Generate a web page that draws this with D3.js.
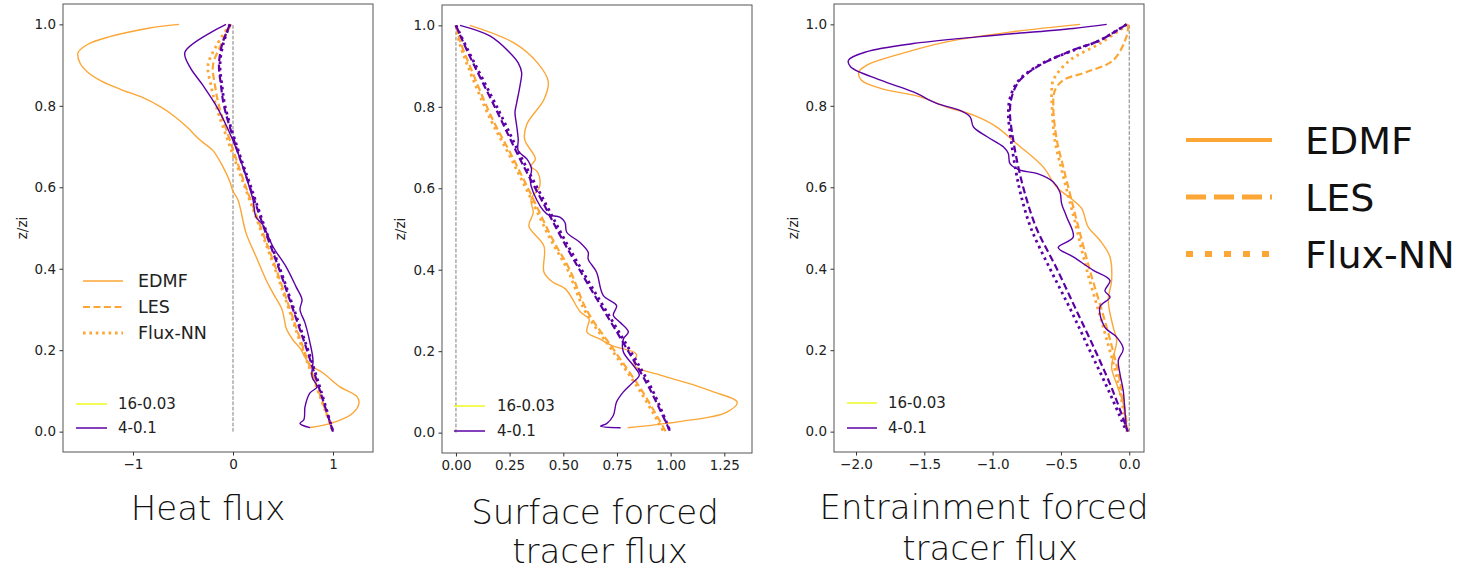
<!DOCTYPE html>
<html>
<head>
<meta charset="utf-8">
<script src="https://cdn.jsdelivr.net/npm/d3@7"></script>
<style>
  body { margin: 0; background: #fff; }
  svg { display: block; }
</style>
</head>
<body>
<svg id="chart" width="1476" height="572"></svg>
<script>
// ---- Profiles: each point is [flux, z/zi]. Case A = "16-0.03", case B = "4-0.1" ----

// Heat flux
const heatEdmfA = [[-0.54,1.0],[-0.86,0.99],[-1.23,0.97],[-1.46,0.95],[-1.55,0.93],[-1.53,0.905],[-1.45,0.882],[-1.31,0.86],[-1.12,0.84],[-0.90,0.82],[-0.72,0.797],[-0.60,0.777],[-0.46,0.748],[-0.33,0.716],[-0.20,0.69],[-0.10,0.65],[-0.03,0.613],[0.0,0.59],[0.05,0.569],[0.13,0.488],[0.23,0.43],[0.33,0.373],[0.40,0.34],[0.49,0.30],[0.52,0.267],[0.53,0.255],[0.60,0.225],[0.67,0.205],[0.77,0.164],[0.90,0.144],[1.07,0.11],[1.24,0.086],[1.26,0.07],[1.20,0.046],[1.00,0.022],[0.77,0.01]];
const heatEdmfB = [[-0.07,1.0],[-0.48,0.932],[-0.43,0.895],[-0.30,0.85],[-0.16,0.797],[-0.06,0.748],[0.04,0.69],[0.12,0.634],[0.20,0.569],[0.23,0.527],[0.30,0.507],[0.40,0.454],[0.53,0.405],[0.63,0.356],[0.69,0.324],[0.67,0.30],[0.72,0.267],[0.77,0.218],[0.80,0.176],[0.79,0.135],[0.84,0.11],[0.77,0.095],[0.72,0.061],[0.71,0.03],[0.67,0.02],[0.77,0.01]];
const heatLesA = [[-0.02,1.0],[-0.12,0.95],[-0.20,0.9],[-0.18,0.85],[-0.14,0.8],[-0.01,0.7],[0.13,0.6],[0.28,0.5],[0.43,0.4],[0.57,0.3],[0.71,0.2],[0.855,0.1],[1.0,0.0]];
const heatLesB = [[-0.03,1.0],[-0.11,0.95],[-0.14,0.9],[-0.12,0.85],[-0.09,0.8],[0.03,0.7],[0.17,0.6],[0.31,0.5],[0.46,0.4],[0.60,0.3],[0.74,0.2],[0.87,0.1],[1.0,0.0]];
const heatNnA = [[-0.03,1.0],[-0.16,0.95],[-0.25,0.9],[-0.22,0.85],[-0.17,0.8],[-0.03,0.7],[0.12,0.6],[0.27,0.5],[0.42,0.4],[0.56,0.3],[0.70,0.2],[0.85,0.1],[1.0,0.0]];
const heatNnB = [[-0.03,1.0],[-0.10,0.95],[-0.13,0.9],[-0.11,0.85],[-0.08,0.8],[0.04,0.7],[0.18,0.6],[0.32,0.5],[0.47,0.4],[0.61,0.3],[0.75,0.2],[0.88,0.1],[1.0,0.0]];

// Surface forced tracer flux
const surfEdmfA = [[0.065,1.0],[0.27,0.957],[0.38,0.908],[0.43,0.862],[0.41,0.818],[0.33,0.757],[0.32,0.72],[0.37,0.672],[0.35,0.654],[0.38,0.64],[0.39,0.605],[0.35,0.573],[0.36,0.54],[0.34,0.507],[0.41,0.458],[0.41,0.394],[0.45,0.37],[0.51,0.353],[0.58,0.296],[0.62,0.279],[0.61,0.247],[0.67,0.23],[0.73,0.213],[0.84,0.193],[0.83,0.165],[0.96,0.14],[1.12,0.115],[1.20,0.10],[1.31,0.075],[1.26,0.05],[1.04,0.027],[0.80,0.012]];
const surfEdmfB = [[0.019,1.0],[0.158,0.974],[0.251,0.933],[0.29,0.908],[0.306,0.884],[0.298,0.851],[0.283,0.81],[0.275,0.786],[0.283,0.753],[0.29,0.72],[0.29,0.692],[0.33,0.672],[0.352,0.647],[0.345,0.623],[0.36,0.59],[0.423,0.537],[0.484,0.529],[0.508,0.516],[0.516,0.492],[0.578,0.467],[0.616,0.443],[0.616,0.426],[0.655,0.394],[0.686,0.337],[0.748,0.312],[0.733,0.288],[0.764,0.271],[0.803,0.247],[0.78,0.23],[0.78,0.198],[0.826,0.165],[0.854,0.141],[0.826,0.124],[0.78,0.10],[0.748,0.075],[0.733,0.042],[0.702,0.022],[0.674,0.016],[0.767,0.012]];
const surfLesA = [[0.0,1.0],[0.02,0.96],[0.065,0.9],[0.17,0.77],[0.26,0.68],[0.345,0.59],[0.45,0.475],[0.53,0.4],[0.61,0.3],[0.74,0.2],[0.87,0.1],[0.98,0.0]];
const surfLesB = [[0.0,1.0],[0.05,0.94],[0.19,0.79],[0.30,0.67],[0.41,0.56],[0.50,0.47],[0.62,0.36],[0.78,0.22],[0.90,0.11],[1.0,0.0]];
const surfNnA = [[0.0,1.0],[0.015,0.96],[0.055,0.9],[0.16,0.77],[0.25,0.68],[0.335,0.59],[0.44,0.475],[0.52,0.4],[0.60,0.3],[0.73,0.2],[0.86,0.1],[0.97,0.0]];
const surfNnB = [[0.0,1.0],[0.055,0.94],[0.20,0.79],[0.31,0.67],[0.42,0.56],[0.51,0.47],[0.63,0.36],[0.79,0.22],[0.91,0.11],[1.0,0.0]];

// Entrainment forced tracer flux
const entEdmfA = [[-0.36,1.0],[-0.85,0.982],[-1.336,0.957],[-1.70,0.925],[-1.92,0.90],[-1.98,0.883],[-1.96,0.863],[-1.82,0.843],[-1.53,0.822],[-1.336,0.797],[-1.14,0.777],[-0.98,0.75],[-0.824,0.707],[-0.63,0.65],[-0.53,0.60],[-0.41,0.568],[-0.348,0.548],[-0.30,0.502],[-0.215,0.47],[-0.141,0.429],[-0.129,0.371],[-0.154,0.322],[-0.117,0.256],[-0.092,0.224],[-0.129,0.158],[-0.092,0.117],[-0.044,0.068],[-0.019,0.002]];
const entEdmfB = [[-0.165,1.0],[-0.41,0.99],[-1.09,0.97],[-1.58,0.953],[-1.92,0.933],[-2.055,0.912],[-2.04,0.896],[-1.82,0.863],[-1.58,0.834],[-1.41,0.806],[-1.24,0.789],[-1.165,0.773],[-1.14,0.748],[-1.04,0.724],[-0.92,0.699],[-0.885,0.683],[-0.873,0.658],[-0.80,0.642],[-0.677,0.634],[-0.556,0.613],[-0.507,0.588],[-0.495,0.56],[-0.458,0.527],[-0.41,0.478],[-0.52,0.452],[-0.41,0.429],[-0.263,0.396],[-0.141,0.371],[-0.178,0.346],[-0.141,0.33],[-0.215,0.306],[-0.178,0.256],[-0.092,0.232],[-0.044,0.203],[-0.08,0.175],[-0.068,0.142],[-0.044,0.101],[-0.032,0.052],[-0.019,0.002]];
const entLesA = [[-0.007,1.0],[-0.02,0.97],[-0.117,0.912],[-0.312,0.883],[-0.483,0.863],[-0.544,0.838],[-0.556,0.797],[-0.53,0.716],[-0.483,0.65],[-0.434,0.584],[-0.385,0.519],[-0.288,0.396],[-0.165,0.256],[-0.068,0.125],[-0.01,0.0]];
const entLesB = [[-0.02,1.0],[-0.215,0.961],[-0.41,0.937],[-0.653,0.90],[-0.80,0.863],[-0.86,0.822],[-0.873,0.781],[-0.849,0.716],[-0.812,0.65],[-0.763,0.584],[-0.68,0.5],[-0.53,0.4],[-0.39,0.3],[-0.25,0.2],[-0.12,0.1],[-0.01,0.0]];
const entNnA = [[-0.01,1.0],[-0.215,0.953],[-0.434,0.912],[-0.556,0.863],[-0.568,0.83],[-0.565,0.797],[-0.545,0.716],[-0.50,0.65],[-0.45,0.584],[-0.40,0.519],[-0.31,0.396],[-0.19,0.256],[-0.085,0.125],[-0.015,0.0]];
const entNnB = [[-0.02,1.0],[-0.22,0.96],[-0.42,0.935],[-0.66,0.9],[-0.81,0.862],[-0.87,0.822],[-0.885,0.781],[-0.865,0.716],[-0.835,0.65],[-0.795,0.584],[-0.72,0.5],[-0.58,0.4],[-0.43,0.3],[-0.29,0.2],[-0.15,0.1],[-0.02,0.0]];

// Tick labels
const zTicks = [0.0, 0.2, 0.4, 0.6, 0.8, 1.0];
const heatTicks = [-1, 0, 1];
const surfTicks = [0.0, 0.25, 0.5, 0.75, 1.0, 1.25];
const entTicks = [-2.0, -1.5, -1.0, -0.5, 0.0];

// Legend entries
const modelNames = ["EDMF", "LES", "Flux-NN"];
const caseNames = ["16-0.03", "4-0.1"];

// ---- Drawing ----
const svg = d3.select("#chart");
const ORANGE = "#fca636", PURPLE = "#5c01a6", YELLOW = "#f0f921";
const FONT = "'DejaVu Sans', sans-serif";
const lineStyle = {
  EDMF:      { dash: null,      width: 1.4 },
  LES:       { dash: "7,3.5",   width: 2.2 },
  "Flux-NN": { dash: "2.6,3.8", width: 2.8 }
};

const panels = [
  { left: 63, right: 373, top: 4, bottom: 452, xDomain: [-1.70, 1.40], ticks: heatTicks, fmt: d3.format("d"),
    A: [heatEdmfA, heatLesA, heatNnA], B: [heatEdmfB, heatLesB, heatNnB], ylabelX: 22,
    caseLegend: { x1: 76, x2: 107, tx: 118, ys: [404, 428] },
    title: [{ t: "Heat flux", x: 208, y: 520 }] },
  { left: 442, right: 752, top: 5, bottom: 453, xDomain: [-0.065, 1.379], ticks: surfTicks, fmt: d3.format(".2f"),
    A: [surfEdmfA, surfLesA, surfNnA], B: [surfEdmfB, surfLesB, surfNnB], ylabelX: 400,
    caseLegend: { x1: 454, x2: 485, tx: 497, ys: [406, 431] },
    title: [{ t: "Surface forced", x: 595, y: 524 }, { t: "tracer flux", x: 600, y: 563 }] },
  { left: 834, right: 1144, top: 4, bottom: 452, xDomain: [-2.161, 0.108], ticks: entTicks, fmt: d3.format(".1f"),
    A: [entEdmfA, entLesA, entNnA], B: [entEdmfB, entLesB, entNnB], ylabelX: 793,
    caseLegend: { x1: 847, x2: 877, tx: 888, ys: [403, 428] },
    title: [{ t: "Entrainment forced", x: 984, y: 519 }, { t: "tracer flux", x: 990, y: 560 }] }
];

panels.forEach((p, i) => {
  const x = d3.scaleLinear().domain(p.xDomain).range([p.left, p.right]);
  const y = d3.scaleLinear().domain([-0.05, 1.05]).range([p.bottom, p.top]);
  const g = svg.append("g");

  // zero reference line
  g.append("line")
    .attr("x1", x(0)).attr("x2", x(0)).attr("y1", y(0)).attr("y2", y(1))
    .attr("stroke", "#7f7f7f").attr("stroke-width", 1).attr("stroke-dasharray", "3.7,1.6");

  const line = d3.line().x(d => x(d[0])).y(d => y(d[1])).curve(d3.curveCatmullRom.alpha(0.5));
  [[p.A, ORANGE], [p.B, PURPLE]].forEach(([set, color]) => {
    set.forEach((data, k) => {
      const st = lineStyle[modelNames[k]];
      g.append("path").datum(data)
        .attr("d", line)
        .attr("fill", "none")
        .attr("stroke", color)
        .attr("stroke-width", st.width)
        .attr("stroke-dasharray", st.dash);
    });
  });

  // frame
  g.append("rect")
    .attr("x", p.left).attr("y", p.top)
    .attr("width", p.right - p.left).attr("height", p.bottom - p.top)
    .attr("fill", "none").attr("stroke", "#555").attr("stroke-width", 1);

  // axes
  const xAxis = d3.axisBottom(x).tickValues(p.ticks).tickFormat(p.fmt).tickSize(3.5).tickSizeOuter(0).tickPadding(3.5);
  const yAxis = d3.axisLeft(y).tickValues(zTicks).tickFormat(d3.format(".1f")).tickSize(3.5).tickSizeOuter(0).tickPadding(3.5);
  [g.append("g").attr("transform", `translate(0,${p.bottom})`).call(xAxis),
   g.append("g").attr("transform", `translate(${p.left},0)`).call(yAxis)].forEach(a => {
    a.select(".domain").remove();
    a.selectAll("line").attr("stroke", "#333");
    a.selectAll("text").attr("font-family", FONT).attr("font-size", 13.5).attr("fill", "#222");
  });

  g.append("text")
    .attr("transform", `translate(${p.ylabelX},${(p.top + p.bottom) / 2}) rotate(-90)`)
    .attr("text-anchor", "middle").attr("dy", "0.35em")
    .attr("font-family", FONT).attr("font-size", 13.5).attr("fill", "#222")
    .text("z/zi");

  // case legend
  const cl = p.caseLegend;
  [YELLOW, PURPLE].forEach((c, k) => {
    g.append("line").attr("x1", cl.x1).attr("x2", cl.x2).attr("y1", cl.ys[k]).attr("y2", cl.ys[k])
      .attr("stroke", c).attr("stroke-width", 1.5);
    g.append("text").attr("x", cl.tx).attr("y", cl.ys[k]).attr("dy", "0.35em")
      .attr("font-family", FONT).attr("font-size", 15).attr("fill", "#222")
      .text(caseNames[k]);
  });

  // model legend inside the heat flux panel
  if (i === 0) {
    const ys = [281, 307, 333];
    modelNames.forEach((m, k) => {
      const st = lineStyle[m];
      g.append("line").attr("x1", 83).attr("x2", 123).attr("y1", ys[k]).attr("y2", ys[k])
        .attr("stroke", ORANGE).attr("stroke-width", st.width).attr("stroke-dasharray", st.dash);
      g.append("text").attr("x", 138).attr("y", ys[k]).attr("dy", "0.35em")
        .attr("font-family", FONT).attr("font-size", 17.5).attr("fill", "#222").text(m);
    });
  }

  // panel title
  p.title.forEach(t => {
    svg.append("text").attr("x", t.x).attr("y", t.y).attr("text-anchor", "middle")
      .attr("font-family", FONT).attr("font-weight", 200).attr("font-size", 34).attr("fill", "#111")
      .text(t.t);
  });
});

// Large shared legend on the right
const bigLegend = [
  { dash: null,   width: 4 },
  { dash: "20,8", width: 5 },
  { dash: "7,12", width: 6 }
];
const bigYs = [140, 197, 254];
modelNames.forEach((m, k) => {
  svg.append("line").attr("x1", 1186).attr("x2", 1272).attr("y1", bigYs[k]).attr("y2", bigYs[k])
    .attr("stroke", ORANGE).attr("stroke-width", bigLegend[k].width).attr("stroke-dasharray", bigLegend[k].dash);
  svg.append("text").attr("x", 1305).attr("y", bigYs[k]).attr("dy", "0.36em")
    .attr("font-family", FONT).attr("font-size", 38).attr("fill", "#111").text(m);
});
</script>
</body>
</html>
